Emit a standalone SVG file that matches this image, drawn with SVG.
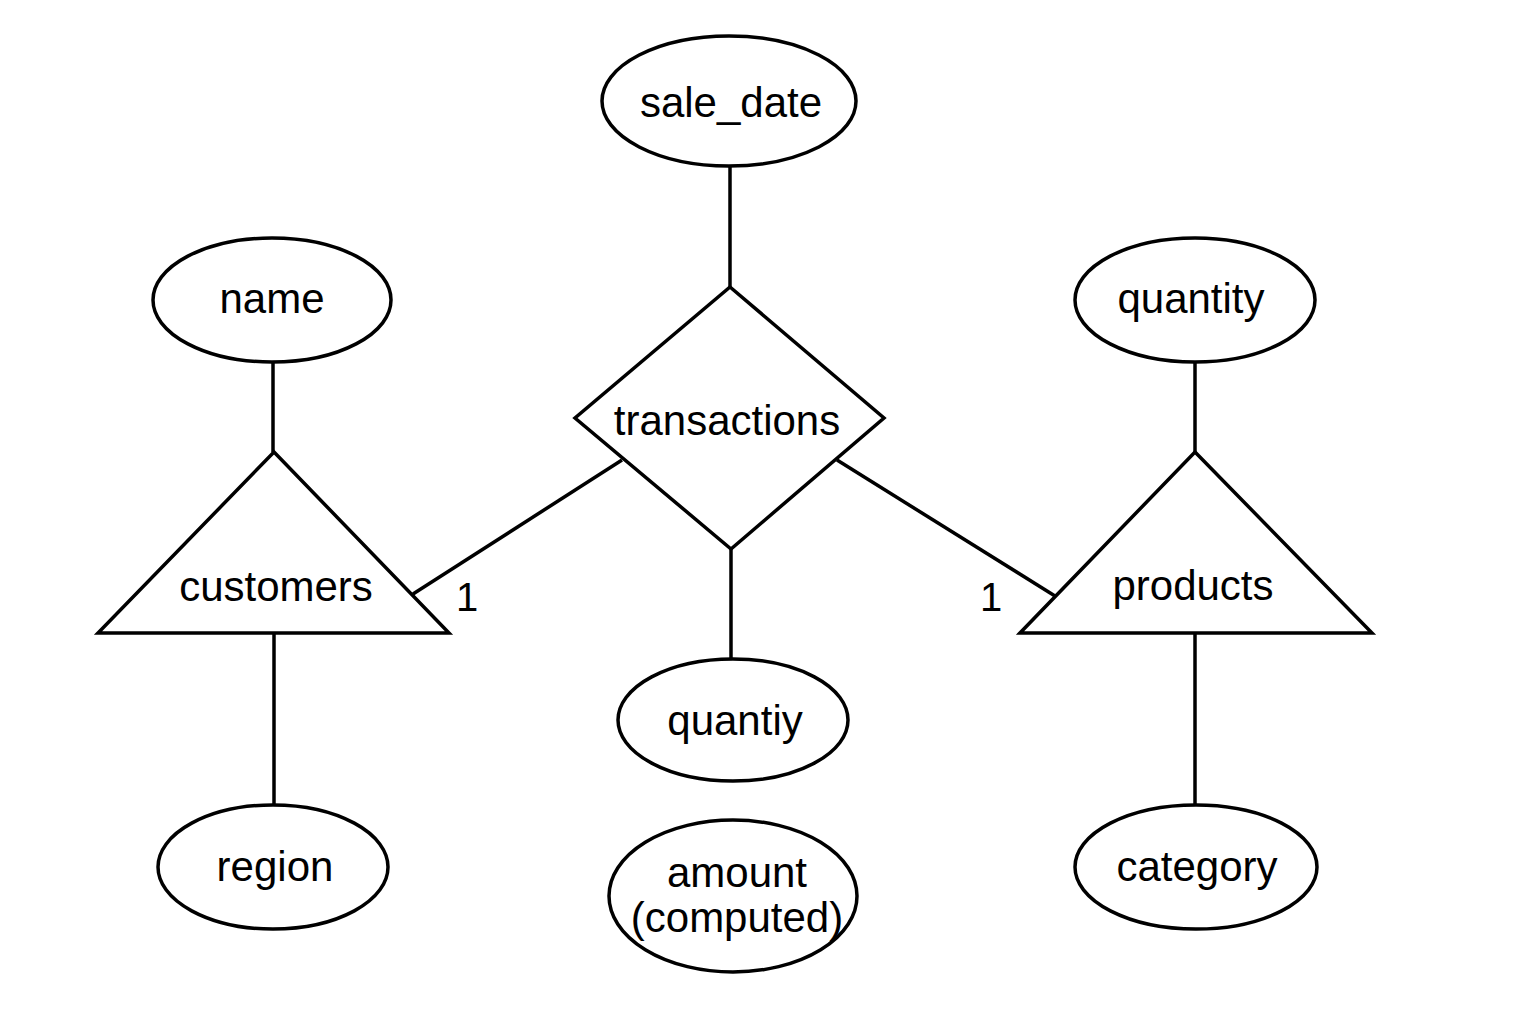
<svg xmlns="http://www.w3.org/2000/svg" width="1536" height="1024" viewBox="0 0 1536 1024">
<style>
.s{fill:#fff;stroke:#000;stroke-width:3.5;stroke-linejoin:miter}
.c{stroke:#000;stroke-width:3.5;fill:none}
text{font-family:"Liberation Sans",Arial,sans-serif;font-size:42px;fill:#000;text-anchor:middle}
.n{font-size:40px}
</style>
<rect width="1536" height="1024" fill="#fff"/>
<g id="connectors">
<line class="c" x1="730" y1="166" x2="730" y2="287"/>
<line class="c" x1="273" y1="362" x2="273" y2="452"/>
<line class="c" x1="274" y1="633" x2="274" y2="805"/>
<line class="c" x1="1195" y1="362" x2="1195" y2="452"/>
<line class="c" x1="1195" y1="633" x2="1195" y2="805"/>
<line class="c" x1="731" y1="549" x2="731" y2="659"/>
<line class="c" x1="622" y1="460" x2="413" y2="594"/>
<line class="c" x1="837" y1="460" x2="1055" y2="596"/>
<text class="n" x="467" y="611">1</text>
<text class="n" x="991" y="611">1</text>
</g>
<g id="sale_date"><ellipse class="s" cx="729" cy="101" rx="127" ry="65"/><text x="731" y="117">sale_date</text></g>
<g id="transactions"><polygon class="s" points="730,287 884,418 731,549 575,418"/><text x="727" y="435">transactions</text></g>
<g id="name"><ellipse class="s" cx="272" cy="300" rx="119" ry="62"/><text x="272" y="313">name</text></g>
<g id="customers"><polygon class="s" points="274,452 449,633 98,633"/><text x="276" y="601">customers</text></g>
<g id="region"><ellipse class="s" cx="273" cy="867" rx="115" ry="62"/><text x="275" y="881">region</text></g>
<g id="quantity"><ellipse class="s" cx="1195" cy="300" rx="120" ry="62"/><text x="1191" y="313">quantity</text></g>
<g id="products"><polygon class="s" points="1195,452 1372,633 1020,633"/><text x="1193" y="600">products</text></g>
<g id="category"><ellipse class="s" cx="1196" cy="867" rx="121" ry="62"/><text x="1197" y="881">category</text></g>
<g id="quantiy"><ellipse class="s" cx="733" cy="720" rx="115" ry="61"/><text x="735" y="735">quantiy</text></g>
<g id="amount"><ellipse class="s" cx="733" cy="896" rx="124" ry="76"/><text x="737" y="887">amount</text><text x="737" y="932">(computed)</text></g>
</svg>
